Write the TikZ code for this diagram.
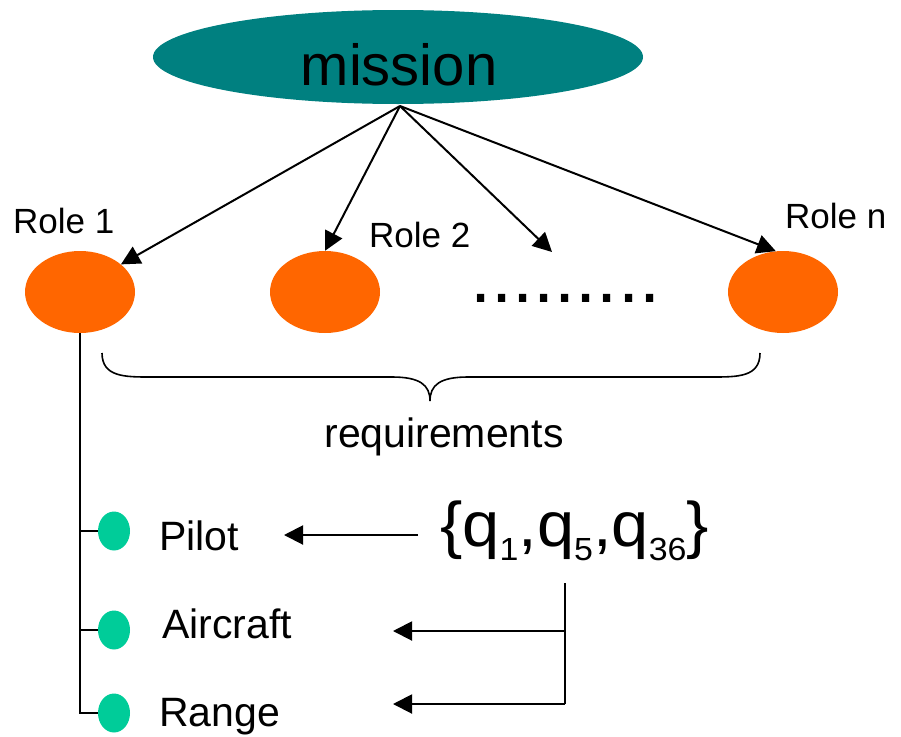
\documentclass[tikz,border=0pt]{standalone}
\usepackage{fontspec}
\setmainfont{Liberation Sans}
\usetikzlibrary{shapes.geometric,arrows.meta}
\definecolor{missionteal}{RGB}{0,128,128}
\definecolor{roleorange}{RGB}{255,102,0}
\definecolor{reqgreen}{RGB}{0,204,153}
\newcommand{\fs}[1]{\fontsize{#1}{#1}\selectfont}
\newcommand{\qsub}[1]{\raisebox{-14pt}{\fs{32}#1}}
\begin{document}
\begin{tikzpicture}[x=1pt,y=-1pt,
  conn/.style={line width=2pt,draw=black},
  arr/.style={conn,-{Triangle[length=19pt,width=19pt]}},
  rolebox/.style={ellipse,fill=roleorange,draw=none,minimum width=110pt,minimum height=82pt,inner sep=0pt},
  dotbox/.style={ellipse,fill=reqgreen,draw=none,minimum width=32pt,minimum height=39pt,inner sep=0pt},
  rolelbl/.style={anchor=base west,inner sep=0pt,font=\fs{35}},
  itemlbl/.style={anchor=base west,inner sep=0pt,font=\fs{41}}]
\useasboundingbox (0,0) rectangle (901,736);
% mission
\node[ellipse,fill=missionteal,draw=none,minimum width=490pt,minimum height=94pt,inner sep=0pt] (mission) at (398,57) {};
\node[anchor=base,inner sep=0pt,font=\fs{58}] (missiontext) at (399,85) {mission};
\coordinate (apex) at (400,106);
% roles
\node[rolebox] (r1) at (80,292) {};
\node[rolebox] (r2) at (325,292) {};
\node[rolebox] (rn) at (783,292) {};
\node[rolelbl] (l1) at (13,233) {Role 1};
\node[rolelbl] (l2) at (369,247) {Role 2};
\node[rolelbl] (ln) at (785,228) {Role n};
\node[anchor=base west,inner sep=0pt,font=\fs{76}] (dots) at (470,302) {.........};
\coordinate (dotsend) at (552,252);
\draw[arr] (apex) -- (r1.34);
\draw[arr] (apex) -- (r2.north);
\draw[arr] (apex) -- (dotsend);
\draw[arr] (apex) -- (rn.100);
% brace
\draw[line width=1.6pt] (102,353) .. controls (102,377) and (125,377) .. (150,377) -- (392,377)
  .. controls (420,377) and (430,385) .. (430,401)
  .. controls (430,385) and (440,377) .. (468,377) -- (712,377)
  .. controls (738,377) and (760,377) .. (760,353);
\node[anchor=base,inner sep=0pt,font=\fs{41}] (req) at (444,447) {requirements};
% requirement items
\node[dotbox] (g1) at (114,531) {};
\node[dotbox] (g2) at (114,630) {};
\node[dotbox] (g3) at (114,713) {};
\node[itemlbl] (pilot) at (159,550) {Pilot};
\node[itemlbl] (aircraft) at (162,638) {Aircraft};
\node[itemlbl] (range) at (159,726) {Range};
\draw[conn] (r1.south) -- (80,713) -- (g3.west);
\draw[conn] (80,531) -- (g1.west);
\draw[conn] (80,630) -- (g2.west);
% set
\node[anchor=base west,inner sep=0pt,font=\fs{63}] (set) at (440,546)
  {\scalebox{1.06}[1]{\{q\qsub{1},q\qsub{5},q\qsub{36}\}}};
\coordinate (ps) at (418,535);
\coordinate (pe) at (284,535);
\coordinate (vt) at (565,583);
\coordinate (vm) at (565,631);
\coordinate (vb) at (565,704);
\coordinate (ae) at (393,631);
\coordinate (re) at (393,704);
\draw[arr] (ps) -- (pe);
\draw[conn] (vt) -- (vb);
\draw[arr] (vm) -- (ae);
\draw[arr] (vb) -- (re);
\end{tikzpicture}
\end{document}
